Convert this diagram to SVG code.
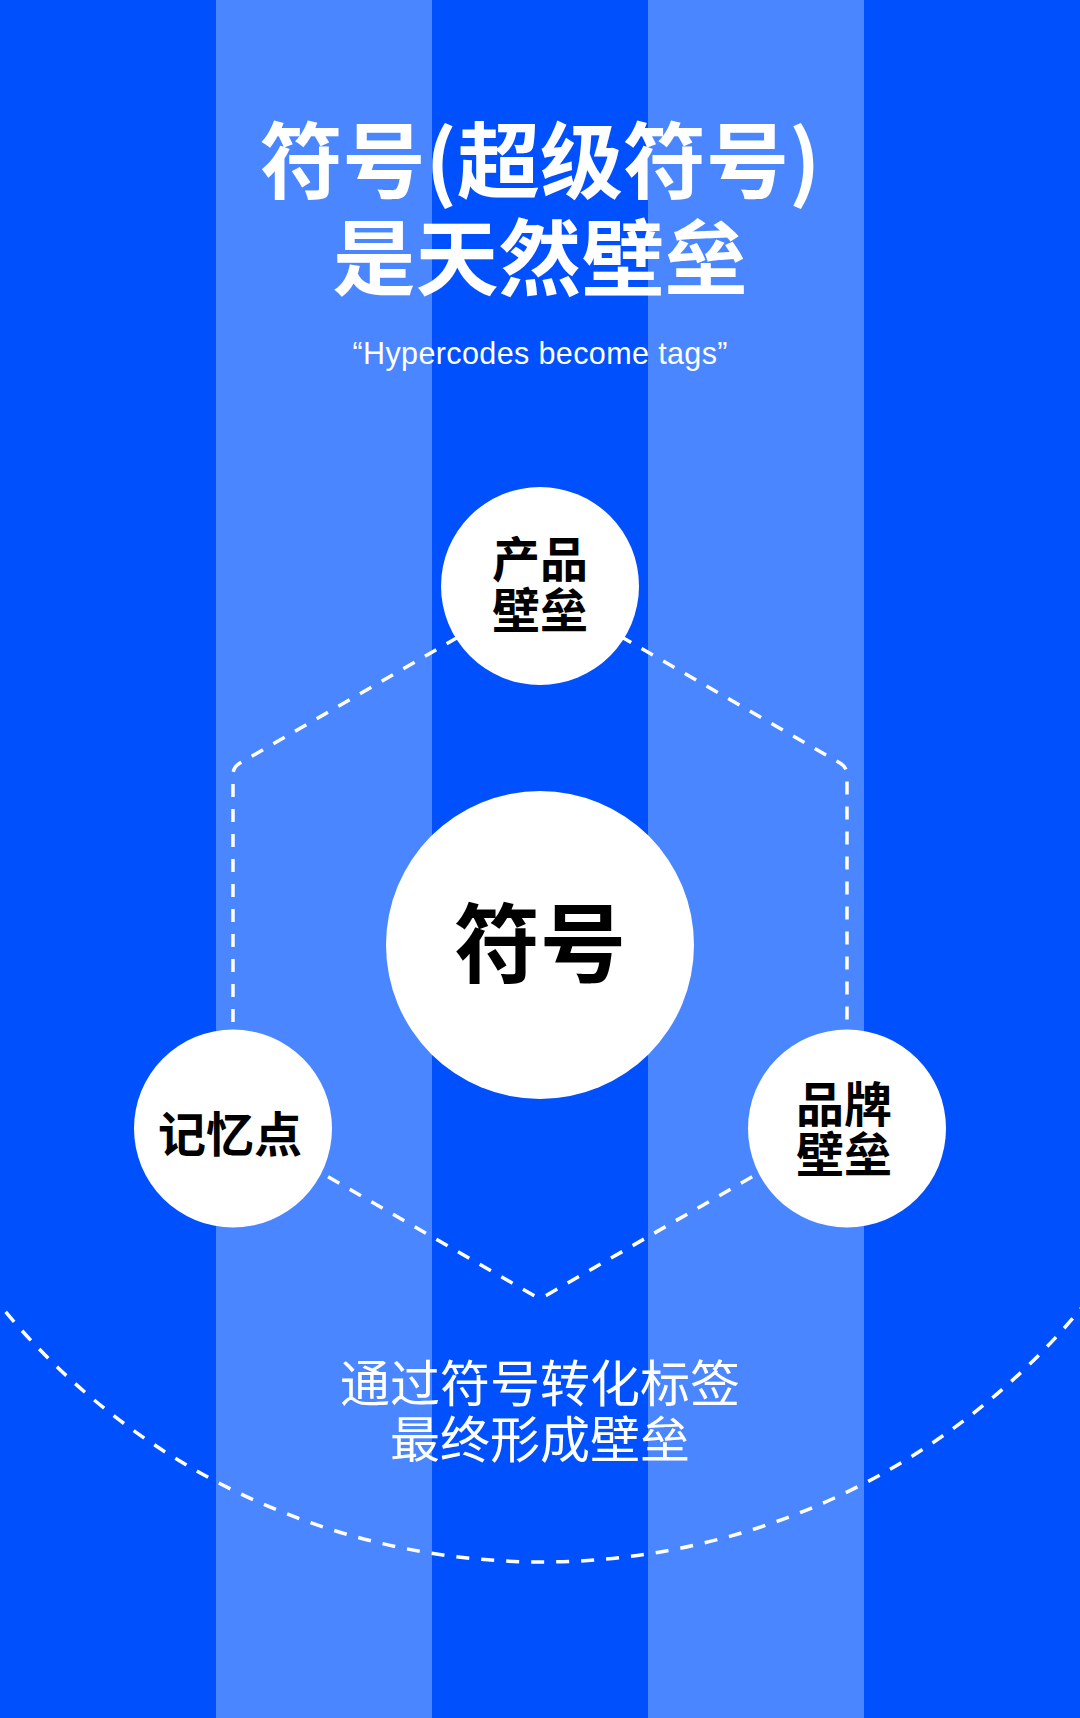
<svg xmlns="http://www.w3.org/2000/svg" width="1080" height="1718" viewBox="0 0 1080 1718">
  <style>
    .dark { fill: #0050FE; }
    .light { fill: #4A86FF; }
    .dash { fill: none; stroke: #FFFFFF; stroke-width: 3.5; stroke-dasharray: 13 12; stroke-linecap: butt; stroke-linejoin: round; }
    .node { fill: #FFFFFF; }
    .cjk { font-family: "Noto Sans CJK SC", "Noto Sans", sans-serif; text-anchor: middle; }
    .title { fill: #FFFFFF; font-size: 83px; font-weight: 700; }
    .label { fill: #000000; font-size: 48px; font-weight: 700; }
    .big { fill: #000000; font-size: 86px; font-weight: 700; }
    .note { fill: #FFFFFF; font-size: 50px; font-weight: 400; }
    .sub { fill: #FFFFFF; font-family: "Liberation Sans", Arial, sans-serif; font-size: 30.5px; text-anchor: middle; }
  </style>

  <g id="background">
    <rect class="dark" x="0" y="0" width="1080" height="1718"/>
    <rect class="light" x="216" y="0" width="216" height="1718"/>
    <rect class="light" x="648" y="0" width="216" height="1718"/>
  </g>

  <g id="title">
    <text class="cjk title"><tspan x="540" y="192">符号(超级符号)</tspan><tspan x="540" y="289">是天然壁垒</tspan></text>
    <text class="sub" x="540" y="364" textLength="375" lengthAdjust="spacing">“Hypercodes become tags”</text>
  </g>

  <g id="connectors">
    <path class="dash" d="M 233 1122 L 233 775 Q 233 767 240 763 L 540 590 L 840 763 Q 847 767 847 775 L 847 1122 L 547 1295 Q 540 1299 533 1295 Z"/>
    <path class="dash" d="M -10 1292.5 A 700 700 0 0 0 1090 1297.5"/>
  </g>

  <g id="node-product">
    <circle class="node" cx="540" cy="586" r="99"/>
    <text class="cjk label"><tspan x="540" y="577">产品</tspan><tspan x="540" y="628">壁垒</tspan></text>
  </g>

  <g id="node-symbol">
    <circle class="node" cx="540" cy="945" r="154"/>
    <text class="cjk big" x="540" y="976">符号</text>
  </g>

  <g id="node-memory">
    <circle class="node" cx="233" cy="1128.5" r="99"/>
    <text class="cjk label" x="230" y="1152">记忆点</text>
  </g>

  <g id="node-brand">
    <circle class="node" cx="847" cy="1128.5" r="99"/>
    <text class="cjk label"><tspan x="844" y="1122">品牌</tspan><tspan x="844" y="1172">壁垒</tspan></text>
  </g>

  <g id="caption">
    <text class="cjk note"><tspan x="540" y="1402">通过符号转化标签</tspan><tspan x="540" y="1458">最终形成壁垒</tspan></text>
  </g>
</svg>
